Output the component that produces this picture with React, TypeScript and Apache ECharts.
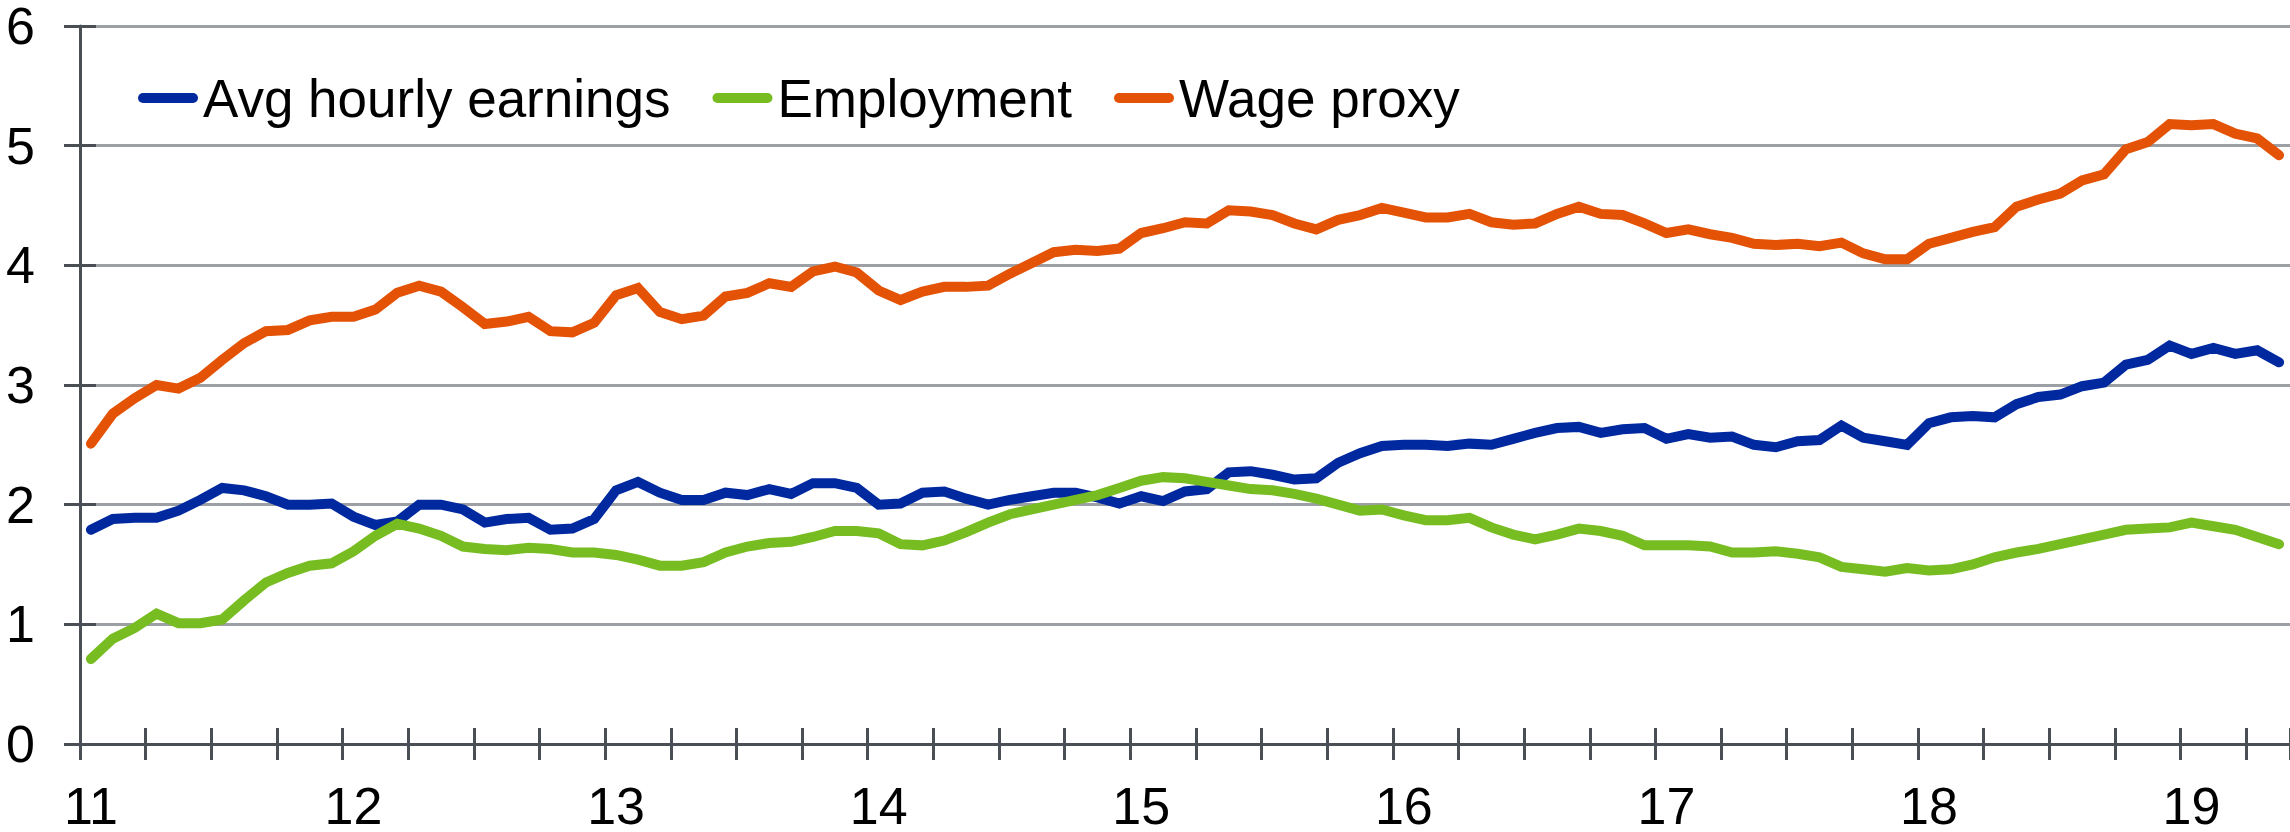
import React, { useEffect, useRef } from "react";
import * as echarts from "echarts";

const YEARS = ["11", "12", "13", "14", "15", "16", "17", "18", "19"];
const MONTHS = ["01", "02", "03", "04", "05", "06", "07", "08", "09", "10", "11", "12"];
const MONTH_COUNT = 101; // Jan 2011 .. May 2019

const CATEGORIES: string[] = [];
YEARS.forEach((y) => MONTHS.forEach((m) => CATEGORIES.push(`20${y}-${m}`)));
const MONTH_CATEGORIES = CATEGORIES.slice(0, MONTH_COUNT);

const SERIES_NAMES = ["Avg hourly earnings", "Employment", "Wage proxy"];
const SERIES_COLORS = ["#0029a0", "#77bd22", "#e35205"];

const AVG_HOURLY_EARNINGS = [
  1.79, 1.88, 1.89, 1.89, 1.95, 2.04, 2.14, 2.12, 2.07, 2.0, 2.0, 2.01,
  1.9, 1.83, 1.86, 2.0, 2.0, 1.96, 1.85, 1.88, 1.89, 1.79, 1.8, 1.88,
  2.12, 2.19, 2.1, 2.04, 2.04, 2.1, 2.08, 2.13, 2.09, 2.18, 2.18, 2.14,
  2.0, 2.01, 2.1, 2.11, 2.05, 2.0, 2.04, 2.07, 2.1, 2.1, 2.06, 2.01,
  2.07, 2.03, 2.11, 2.13, 2.27, 2.28, 2.25, 2.21, 2.22, 2.35, 2.43, 2.49,
  2.5, 2.5, 2.49, 2.51, 2.5, 2.55, 2.6, 2.64, 2.65, 2.6, 2.63, 2.64,
  2.55, 2.59, 2.56, 2.57, 2.5, 2.48, 2.53, 2.54, 2.66, 2.56, 2.53, 2.5,
  2.68, 2.73, 2.74, 2.73, 2.84, 2.9, 2.92, 2.99, 3.02, 3.17, 3.21, 3.33,
  3.26, 3.31, 3.26, 3.29, 3.19,
];

const EMPLOYMENT = [
  0.71, 0.88, 0.97, 1.09, 1.01, 1.01, 1.04, 1.2, 1.35, 1.43, 1.49, 1.51,
  1.61, 1.74, 1.84, 1.8, 1.74, 1.65, 1.63, 1.62, 1.64, 1.63, 1.6, 1.6,
  1.58, 1.54, 1.49, 1.49, 1.52, 1.6, 1.65, 1.68, 1.69, 1.73, 1.78, 1.78,
  1.76, 1.67, 1.66, 1.7, 1.77, 1.85, 1.92, 1.96, 2.0, 2.04, 2.08, 2.14,
  2.2, 2.23, 2.22, 2.19, 2.16, 2.13, 2.12, 2.09, 2.05, 2.0, 1.95, 1.96,
  1.91, 1.87, 1.87, 1.89, 1.81, 1.75, 1.71, 1.75, 1.8, 1.78, 1.74, 1.66,
  1.66, 1.66, 1.65, 1.6, 1.6, 1.61, 1.59, 1.56, 1.48, 1.46, 1.44, 1.47,
  1.45, 1.46, 1.5, 1.56, 1.6, 1.63, 1.67, 1.71, 1.75, 1.79, 1.8, 1.81,
  1.85, 1.82, 1.79, 1.73, 1.67,
];

const WAGE_PROXY = [
  2.51, 2.76, 2.89, 3.0, 2.97, 3.06, 3.21, 3.35, 3.45, 3.46, 3.54, 3.57,
  3.57, 3.63, 3.77, 3.83, 3.78, 3.65, 3.51, 3.53, 3.57, 3.45, 3.44, 3.52,
  3.75, 3.81, 3.61, 3.55, 3.58, 3.74, 3.77, 3.85, 3.82, 3.95, 3.99, 3.94,
  3.79, 3.71, 3.78, 3.82, 3.82, 3.83, 3.93, 4.02, 4.11, 4.13, 4.12, 4.14,
  4.27, 4.31, 4.36, 4.35, 4.46, 4.45, 4.42, 4.35, 4.3, 4.38, 4.42, 4.48,
  4.44, 4.4, 4.4, 4.43, 4.36, 4.34, 4.35, 4.43, 4.49, 4.43, 4.42, 4.35,
  4.27, 4.3, 4.26, 4.23, 4.18, 4.17, 4.18, 4.16, 4.19, 4.1, 4.05, 4.05,
  4.18, 4.23, 4.28, 4.32, 4.49, 4.55, 4.6, 4.71, 4.76, 4.97, 5.03, 5.18,
  5.17, 5.18, 5.1, 5.06, 4.92,
];

const SERIES_VALUES = [AVG_HOURLY_EARNINGS, EMPLOYMENT, WAGE_PROXY];

const Y_MIN = 0;
const Y_MAX = 6;
const Y_INTERVAL = 1;

const FONT = "'Liberation Sans', Arial, Helvetica, sans-serif";
const AXIS_COLOR = "#4a4f55";
const GRID_COLOR = "#9c9fa3";

export default function App() {
  const ref = useRef<HTMLDivElement>(null);

  useEffect(() => {
    if (!ref.current) return;
    const chart = echarts.init(ref.current, undefined, { renderer: "svg" });

    const capsule = "path://M5 0H55A5 5 0 0 1 55 10H5A5 5 0 0 1 5 0Z";

    const option: any = {
      animation: false,
      backgroundColor: "#ffffff",
      textStyle: { fontFamily: FONT },
      grid: { left: 80, right: 0, top: 24, height: 721, containLabel: false },
      legend: {
        left: 133,
        top: 65,
        itemWidth: 60,
        itemHeight: 10,
        itemGap: 42,
        icon: capsule,
        textStyle: { fontSize: 53, lineHeight: 56, color: "#000", fontFamily: FONT },
        data: SERIES_NAMES.map((n) => ({ name: n, icon: capsule })),
      },
      xAxis: [
        {
          type: "category",
          position: "bottom",
          data: MONTH_CATEGORIES,
          boundaryGap: true,
          axisLine: { show: true, lineStyle: { color: AXIS_COLOR, width: 3 } },
          axisTick: {
            show: true,
            inside: false,
            length: 16,
            interval: (i: number) => i % 3 === 0,
            lineStyle: { color: AXIS_COLOR, width: 3 },
          },
          axisLabel: {
            show: true,
            interval: (i: number) => i % 12 === 0,
            formatter: (v: string) => v.slice(2, 4),
            fontSize: 52,
            lineHeight: 46,
            color: "#000",
            fontFamily: FONT,
            margin: 39,
          },
          splitLine: { show: false },
          z: 3,
        },
        {
          type: "category",
          position: "bottom",
          data: MONTH_CATEGORIES,
          boundaryGap: true,
          axisLine: { show: false },
          axisTick: {
            show: true,
            inside: true,
            length: 16,
            interval: (i: number) => i % 3 === 0,
            lineStyle: { color: AXIS_COLOR, width: 3 },
          },
          axisLabel: { show: false },
          splitLine: { show: false },
        },
        {
          type: "category",
          position: "top",
          data: MONTH_CATEGORIES,
          boundaryGap: true,
          axisLine: { show: true, lineStyle: { color: AXIS_COLOR, width: 3 } },
          axisTick: { show: false },
          axisLabel: { show: false },
          splitLine: { show: false },
        },
      ],
      yAxis: [
        {
          type: "value",
          position: "left",
          min: Y_MIN,
          max: Y_MAX,
          interval: Y_INTERVAL,
          axisLine: { show: true, lineStyle: { color: AXIS_COLOR, width: 3 } },
          axisTick: { show: true, inside: false, length: 16, lineStyle: { color: AXIS_COLOR, width: 3 } },
          axisLabel: { fontSize: 52, lineHeight: 44, color: "#000", fontFamily: FONT, margin: 45 },
          splitLine: { show: true, lineStyle: { color: GRID_COLOR, width: 3 } },
          z: 3,
        },
        {
          type: "value",
          position: "left",
          min: Y_MIN,
          max: Y_MAX,
          interval: Y_INTERVAL,
          axisLine: { show: false },
          axisTick: { show: true, inside: true, length: 16, lineStyle: { color: AXIS_COLOR, width: 3 } },
          axisLabel: { show: false },
          splitLine: { show: false },
          z: 3,
        },
      ],
      series: SERIES_NAMES.map((name, k) => ({
        name,
        type: "line",
        xAxisIndex: 0,
        yAxisIndex: 0,
        data: SERIES_VALUES[k],
        color: SERIES_COLORS[k],
        symbol: "none",
        showSymbol: false,
        lineStyle: { width: 10, color: SERIES_COLORS[k], cap: "round", join: "miter" },
        z: 5,
      })),
    };

    chart.setOption(option);
    return () => chart.dispose();
  }, []);

  return (
    <div
      ref={ref}
      style={{ position: "absolute", left: 0, top: 0, width: 2290, height: 832, background: "#fff" }}
    />
  );
}
